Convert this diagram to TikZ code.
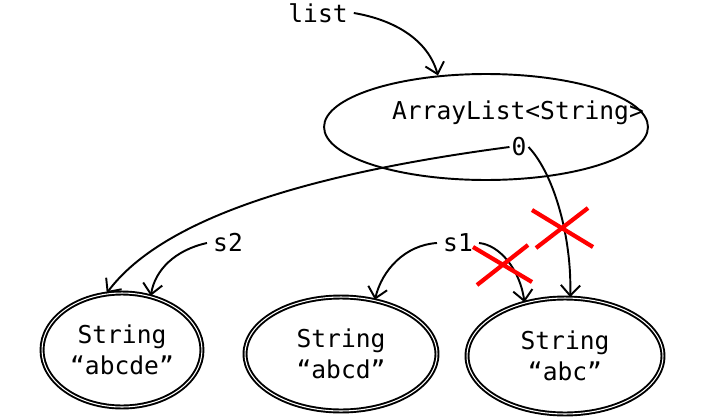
\documentclass[tikz,border=0pt]{standalone}
\usepackage{fontspec}
\setmonofont{DejaVu Sans Mono}
\usetikzlibrary{shapes.geometric,arrows.meta}
\newcommand{\strval}[1]{String\\“#1”}

\begin{document}
\begin{tikzpicture}[x=0.02cm,y=-0.02cm,font=\ttfamily\fontsize{14}{18}\selectfont,every node/.style = {align=center}]
		\tikzset{
			obj/.style = { ellipse, draw, line width=1.1pt, inner sep=0pt },
			strobj/.style = { ellipse, draw, double, line width=1.1pt, double distance=0.6pt, inner sep=0pt, minimum height=2.28cm },
			ptr/.style = { -{Straight Barb[length=6pt,width=11pt]}, line width=1.1pt },
			gone/.style = { draw=red, line width=2.4pt },
		}
		\useasboundingbox (0,0) rectangle (720,416);
		\node (list) at (318,13) {list};
		\node[obj, minimum width=6.48cm, minimum height=2.12cm] (arr) at (486,127) {};
		\node (arrtype) at (518,113) {ArrayList<String>};
		\node[inner sep=1pt] (idx0) at (519,147) {0};
		\node (s2) at (228,243) {s2};
		\node (s1) at (458,243) {s1};
		\node[strobj, minimum width=3.2cm] (abcde) at (122,350) {\strval{abcde}};
		\node[strobj, minimum width=3.84cm] (abcd) at (341,354) {\strval{abcd}};
		\node[strobj, minimum width=3.92cm, minimum height=2.32cm] (abc) at (565,356) {\strval{abc}};
		\draw[ptr] (list.east) .. controls (395,20) and (428,40) .. (arr.133);
		\draw[ptr] (idx0.west) .. controls (320,172) and (165,215) .. (abcde.105);
		\draw[ptr] (idx0.east) .. controls (555,175) and (572,240) .. (abc.85);
		\draw[ptr] (s2.west) .. controls (175,250) and (155,270) .. (abcde.62);
		\draw[ptr] (s1.west) .. controls (405,245) and (382,270) .. (abcd.58);
		\draw[ptr] (s1.east) .. controls (500,245) and (520,270) .. (abc.127);
		% crossed out
		\draw[gone] (532,210) -- (593,247) (536,248) -- (588,208);
		\draw[gone] (473,247) -- (532,282) (477,285) -- (528,245);
\end{tikzpicture}
\end{document}
